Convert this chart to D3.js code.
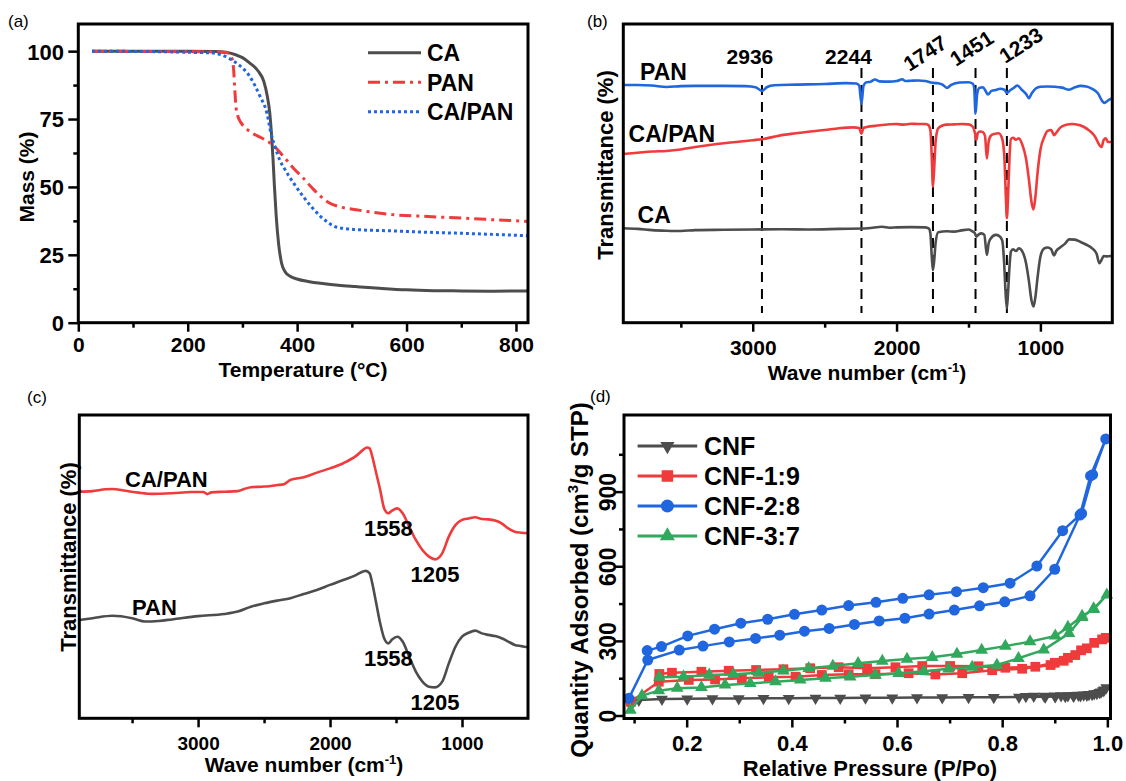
<!DOCTYPE html>
<html lang="en">
<head>
<meta charset="UTF-8" />
<title>TGA, FTIR and N2 isotherms of CA/PAN fibres</title>
<script src="https://cdn.jsdelivr.net/npm/d3@7"></script>
<style>
  html, body { margin: 0; padding: 0; background: #fff; }
  svg text { font-family: "Liberation Sans", Arial, Helvetica, sans-serif; }
</style>
</head>
<body>
<script>
// ---------- data ----------
// (a) TGA: [temperature °C, mass %]
const tgaCA = [[25,100],[100,100],[200,100],[250,99.9],[270,99.6],[290,98.5],[300,97.6],[313,95.7],[329,92.6],[339,88.9],[345.5,83.4],[350,77.2],[353,69.9],[356,60],[358.5,50.2],[361.8,39.1],[366,29.3],[371.6,21.9],[378,18.8],[388,17],[401,16],[420,15.2],[443,14.5],[475,13.8],[508,13.3],[550,12.7],[600,12.1],[650,11.8],[700,11.7],[760,11.6],[822,11.7]];
const tgaPAN = [[25,100],[100,99.9],[200,99.8],[250,99.7],[270,99.5],[278,98.5],[282,96.5],[284,93],[286,86],[288,80],[291,76.5],[298,73.5],[306,71.7],[320,69.6],[339,67.6],[358,65],[378,60.5],[395,56.5],[411,53.3],[428,49.5],[443,46.5],[460,44],[476,42.8],[508,41.6],[540,40.6],[574,39.8],[639,39.1],[704,38.5],[760,37.9],[822,37.3]];
const tgaCAPAN = [[25,100],[100,99.9],[200,99.6],[248,99.3],[274,97.5],[293,95],[313,90.8],[332,83.4],[345,77],[352,69.9],[360,64.5],[368,60],[378,56.3],[395,51],[411,46.5],[427,42.5],[443,39.1],[456,37],[469,35.4],[490,34.6],[508,34.3],[574,33.8],[639,33.3],[704,32.9],[760,32.5],[822,32.0]];
const tgaNames = ["CA", "PAN", "CA/PAN"];

// (b) FTIR of fibres: [wavenumber cm-1, transmittance a.u.]
const irPAN = [[3900,79.6],[3800,79.6],[3700,79.4],[3600,78.9],[3500,79.2],[3400,79.3],[3200,79.3],[3050,79.2],[2980,78.8],[2936,77.6],[2900,78.9],[2850,79.5],[2700,79.7],[2500,79.9],[2350,80.2],[2280,80.1],[2260,79.4],[2244,73.3],[2230,79.3],[2210,80.5],[2180,80.7],[2150,81.4],[2120,80.8],[2050,80.7],[2000,80.9],[1960,81.5],[1940,80.9],[1900,81.0],[1850,81.1],[1800,80.9],[1760,80.4],[1720,80.2],[1680,79.7],[1650,78.6],[1620,79.6],[1560,80.4],[1500,80.5],[1470,80.0],[1460,78.5],[1451,70.0],[1440,76.5],[1425,78.6],[1400,78.8],[1380,77.5],[1365,76.4],[1340,77.6],[1310,77.9],[1280,78.3],[1250,78.0],[1233,76.9],[1210,77.8],[1180,78.8],[1160,79.4],[1130,78.0],[1100,76.6],[1080,75.2],[1060,76.8],[1030,78.5],[1000,79.0],[950,79.1],[900,79.0],[850,78.7],[800,78.0],[760,78.8],[720,79.3],[680,79.1],[640,78.3],[600,76.8],[570,74.2],[555,73.6],[530,74.4],[500,75.3]];
const irCAPAN = [[3900,56.5],[3800,56.9],[3700,57.3],[3600,57.5],[3500,58.0],[3400,58.8],[3300,59.5],[3200,60.1],[3100,60.6],[3000,61.1],[2936,61.4],[2850,62.3],[2800,62.8],[2700,63.4],[2600,64.0],[2500,64.5],[2400,65.1],[2300,65.4],[2260,65.2],[2244,63.3],[2230,65.2],[2200,65.6],[2150,65.9],[2100,66.2],[2000,66.5],[1950,66.3],[1900,66.6],[1850,66.5],[1800,66.5],[1780,66.2],[1765,64.5],[1755,55],[1747,45.5],[1738,52],[1728,61],[1710,65.1],[1680,66],[1650,66.3],[1600,66.4],[1550,66.5],[1500,66.4],[1470,65.6],[1455,63.5],[1445,61.2],[1435,63.5],[1420,64.0],[1400,63.8],[1385,62.5],[1372,55.0],[1360,60.5],[1345,62.6],[1320,63.2],[1290,63.4],[1265,61.5],[1250,55],[1240,42],[1233,35.0],[1225,42],[1215,55],[1205,61.5],[1190,61.9],[1170,61.3],[1150,61.7],[1125,59.5],[1100,55],[1080,48],[1062,40.5],[1048,37.9],[1035,42],[1020,50],[1000,57.8],[970,62.5],[950,64.2],[925,64.5],[905,62.8],[890,63.6],[860,65.4],[820,66.3],[780,66.5],[740,66.3],[700,65.6],[660,64.3],[620,62.3],[590,59.5],[575,58.8],[560,61.2],[545,61.7],[530,60.5],[500,60.5]];
const irCA = [[3900,31.6],[3800,31.4],[3700,31.0],[3600,30.8],[3500,30.7],[3400,31.0],[3200,31.1],[3000,31.2],[2800,31.3],[2600,31.2],[2400,31.4],[2200,31.6],[2100,32.1],[2050,31.8],[2000,31.9],[1900,32.0],[1800,31.9],[1775,31.5],[1765,29.9],[1755,22],[1747,17.6],[1738,21],[1728,27],[1710,30.3],[1650,30.6],[1600,30.5],[1550,30.9],[1500,31.2],[1470,30.5],[1455,29.9],[1445,28.8],[1430,29.5],[1410,29.9],[1390,29.4],[1372,22.7],[1360,26.5],[1345,28.2],[1310,29.4],[1285,29.0],[1265,27.5],[1252,20],[1242,10],[1233,4.8],[1225,10],[1213,20],[1205,23.8],[1190,24.6],[1170,24.0],[1150,24.9],[1125,23.8],[1100,20],[1080,14],[1062,7.5],[1048,5.4],[1035,8.5],[1020,15],[1000,22.1],[975,24.8],[950,25.2],[925,24.6],[905,22.5],[890,24.0],[860,25.3],[830,26.4],[800,27.9],[760,27.8],[720,27.0],[680,26.1],[640,24.9],[610,23.2],[590,19.9],[575,21.0],[560,22.3],[540,22.2],[500,22.4]];
const irNamesB = ["PAN", "CA/PAN", "CA"];
const peaksB = [2936, 2244, 1747, 1451, 1233];

// (c) FTIR of carbon nanofibres
const cfCAPAN = [[3900,74.7],[3800,74.9],[3700,75.5],[3650,75.6],[3550,75.0],[3450,74.4],[3350,74.0],[3200,74.2],[3050,74.6],[2960,74.6],[2930,73.9],[2900,74.5],[2800,74.7],[2700,74.9],[2650,75.6],[2600,76.2],[2500,76.4],[2400,76.9],[2350,77.2],[2300,78.6],[2200,79.5],[2100,81.0],[2000,82.4],[1900,84.1],[1800,86.6],[1750,88.5],[1720,89.3],[1700,89.0],[1680,86.3],[1650,80.8],[1620,75.3],[1590,69.2],[1558,67.6],[1530,68.5],[1490,69.2],[1450,67.6],[1400,63.2],[1350,58.8],[1300,55.5],[1250,53.3],[1205,52.4],[1150,54.4],[1100,59.9],[1050,63.7],[1000,65.4],[950,65.9],[900,66.3],[850,65.7],[800,65.6],[750,65.2],[700,64.3],[650,62.6],[600,61.5],[550,61.2],[500,61.0]];
const cfPAN = [[3900,32.4],[3800,33.0],[3650,33.8],[3500,33.0],[3400,31.9],[3300,32.1],[3200,32.6],[3000,33.7],[2800,34.4],[2700,35.2],[2600,36.8],[2500,37.9],[2400,38.8],[2300,39.6],[2200,41.0],[2100,42.3],[2000,44.0],[1900,45.6],[1800,47.3],[1750,48.4],[1730,48.6],[1700,47.8],[1680,44.5],[1650,37.9],[1620,31.3],[1590,26.4],[1558,24.7],[1530,26.0],[1490,26.9],[1450,25.3],[1400,20.3],[1350,15.4],[1300,12.1],[1250,10.4],[1205,10.2],[1150,12.1],[1100,18.1],[1050,23.6],[1000,26.9],[950,28.2],[900,28.9],[850,28.0],[800,27.5],[750,27.1],[700,26.4],[650,25.3],[600,24.2],[550,23.8],[500,23.4]];
const cfNames = ["CA/PAN", "PAN"];
const peaksC = [1558, 1205];

// (d) N2 isotherms: [P/Po, cm3/g STP], adsorption then desorption
const isoCNF = [[0.090,55],[0.109,62],[0.153,66],[0.201,67],[0.249,68],[0.299,68],[0.346,69],[0.394,69],[0.445,70],[0.492,70],[0.540,71],[0.591,71],[0.638,72],[0.686,72],[0.736,73],[0.784,73],[0.832,74],[0.882,75],[0.901,76],[0.920,77],[0.936,78],[0.949,80],[0.961,82],[0.971,85],[0.980,89],[0.988,95],[0.994,103],[0.998,112],[0.992,100],[0.985,93],[0.975,88],[0.965,85],[0.955,83],[0.945,82],[0.935,81],[0.925,80],[0.912,80],[0.900,79],[0.880,78],[0.860,78],[0.845,77]];
const isoCNF19 = [[0.094,55],[0.147,136],[0.204,143],[0.254,145],[0.305,150],[0.356,154],[0.407,156],[0.457,163],[0.508,166],[0.559,166],[0.622,170],[0.673,165],[0.724,170],[0.781,182],[0.838,188],[0.892,203],[0.917,220],[0.939,243],[0.961,270],[0.990,306],[0.997,312],[0.975,292],[0.950,262],[0.925,232],[0.900,212],[0.863,196],[0.806,192],[0.755,198],[0.701,199],[0.648,199],[0.597,194],[0.543,190],[0.489,194],[0.435,190],[0.384,186],[0.332,183],[0.280,180],[0.228,176],[0.172,172],[0.148,167]];
const isoCNF28 = [[0.090,69],[0.126,223],[0.186,263],[0.231,279],[0.281,296],[0.331,310],[0.377,323],[0.424,339],[0.471,350],[0.519,366],[0.566,380],[0.615,391],[0.661,408],[0.709,424],[0.757,441],[0.805,457],[0.853,481],[0.900,588],[0.948,806],[0.968,963],[0.997,1112],[0.972,968],[0.951,812],[0.915,743],[0.866,601],[0.815,532],[0.764,514],[0.713,498],[0.661,485],[0.611,471],[0.560,455],[0.508,442],[0.457,424],[0.405,407],[0.354,387],[0.303,371],[0.253,347],[0.202,320],[0.152,277],[0.125,261]];
const isoCNF37 = [[0.093,22],[0.115,80],[0.147,100],[0.182,110],[0.228,113],[0.273,123],[0.321,129],[0.369,136],[0.416,143],[0.464,150],[0.511,156],[0.559,163],[0.603,170],[0.651,178],[0.698,188],[0.743,195],[0.790,203],[0.831,230],[0.879,264],[0.927,330],[0.952,395],[0.974,430],[0.999,485],[0.974,427],[0.952,400],[0.925,355],[0.901,320],[0.853,297],[0.806,279],[0.761,263],[0.714,247],[0.667,234],[0.619,227],[0.572,219],[0.526,210],[0.478,199],[0.432,190],[0.384,180],[0.337,172],[0.289,166],[0.243,163],[0.194,156],[0.148,154]];
const isoNames = ["CNF", "CNF-1:9", "CNF-2:8", "CNF-3:7"];

// tick values
const tempTicks = [0, 200, 400, 600, 800], tempMinor = [100, 300, 500, 700];
const massTicks = [0, 25, 50, 75, 100], massMinor = [12.5, 37.5, 62.5, 87.5];
const waveTicks = [3000, 2000, 1000], waveMinor = [3500, 2500, 1500];
const presTicks = [0.2, 0.4, 0.6, 0.8, 1.0], presMinor = [0.1, 0.3, 0.5, 0.7, 0.9];
const qtyTicks = [0, 300, 600, 900], qtyMinor = [150, 450, 750, 1050];

// ---------- drawing ----------
const GREY = "#4d4d4d", RED = "#ef3b3b", BLUE = "#1f66df", GREEN = "#32a85d";

const svg = d3.select("body").append("svg")
    .attr("width", 1126)
    .attr("height", 781);

function label(x, y, str, size, o = {}) {
    const t = svg.append("text")
        .attr("x", x).attr("y", y)
        .attr("text-anchor", o.anchor || "start")
        .attr("fill", "#000")
        .style("font-size", size + "px")
        .style("font-weight", o.weight || "bold")
        .text(str);
    if (o.rotate) t.attr("transform", `rotate(${o.rotate},${x},${y})`);
    if (o.central) t.attr("dominant-baseline", "central");
    return t;
}

function sup(t, main, s, after, size) {
    t.text(main);
    t.append("tspan").attr("dy", -size * 0.4).style("font-size", (size * 0.62) + "px").text(s);
    t.append("tspan").attr("dy", size * 0.4).text(after);
}

function frame(xs, ys) {
    const [x0, x1] = xs.range();
    const [yb, yt] = ys.range();
    svg.append("rect")
        .attr("x", x0).attr("y", yt)
        .attr("width", x1 - x0).attr("height", yb - yt)
        .attr("fill", "none").attr("stroke", "#000").attr("stroke-width", 3);
}

function xAxis(xs, ys, major, minor, o) {
    const y = ys.range()[0];
    const gMin = svg.append("g").attr("transform", `translate(0,${y})`)
        .call(d3.axisBottom(xs).tickValues(minor).tickSize(5).tickFormat(""));
    const gMaj = svg.append("g").attr("transform", `translate(0,${y})`)
        .call(d3.axisBottom(xs).tickValues(major).tickSize(9).tickFormat(o.format || d3.format("d")));
    [gMin, gMaj].forEach(g => {
        g.select(".domain").remove();
        g.selectAll("line").attr("stroke", "#000").attr("stroke-width", 2.5);
    });
    gMaj.selectAll("text")
        .attr("y", o.baseline - y).attr("dy", null).attr("fill", "#000")
        .style("font-size", o.size + "px").style("font-weight", "bold");
}

function yAxis(xs, ys, major, minor, o) {
    const x = xs.range()[0];
    const gMin = svg.append("g").attr("transform", `translate(${x},0)`)
        .call(d3.axisLeft(ys).tickValues(minor).tickSize(5).tickFormat(""));
    const gMaj = svg.append("g").attr("transform", `translate(${x},0)`)
        .call(d3.axisLeft(ys).tickValues(major).tickSize(10).tickFormat(d3.format("d")));
    [gMin, gMaj].forEach(g => {
        g.select(".domain").remove();
        g.selectAll("line").attr("stroke", "#000").attr("stroke-width", 2.5);
    });
    const txt = gMaj.selectAll("text").attr("fill", "#000")
        .style("font-size", o.size + "px").style("font-weight", "bold");
    if (o.rotated) {
        txt.attr("x", 0).attr("y", 0).attr("dy", null).attr("text-anchor", "middle")
           .attr("transform", `translate(${o.baselineX - x},0) rotate(-90)`);
    } else {
        txt.attr("x", o.endX - x).attr("dy", "0.36em");
    }
}

function curve(xs, ys, data, color, width, dash) {
    const line = d3.line().x(d => xs(d[0])).y(d => ys(d[1])).curve(d3.curveMonotoneX);
    const p = svg.append("path")
        .datum(data)
        .attr("d", line)
        .attr("fill", "none")
        .attr("stroke", color)
        .attr("stroke-width", width)
        .attr("stroke-linejoin", "round");
    if (dash) p.attr("stroke-dasharray", dash);
    return p;
}

function valueAt(data, v) {
    return data.find(d => d[0] === v)[1];
}

// panel letters
label(8, 27, "(a)", 17, {weight: "normal"});
label(587, 27, "(b)", 17, {weight: "normal"});
label(27, 403, "(c)", 17, {weight: "normal"});
label(590, 402, "(d)", 17, {weight: "normal"});

// ----- (a) TGA -----
const xA = d3.scaleLinear([0, 822], [78.3, 528]);
const yA = d3.scaleLinear([0, 110], [322.7, 24]);
const tgaStyle = [
    {data: tgaCA, color: GREY, dash: null},
    {data: tgaPAN, color: RED, dash: "12,5,3,5"},
    {data: tgaCAPAN, color: BLUE, dash: "3,3"}
];
tgaStyle.forEach(s => curve(xA, yA, s.data, s.color, 3, s.dash));
tgaStyle.forEach((s, i) => {
    const y = 52.7 + i * 29.5;
    const l = svg.append("line").attr("x1", 368).attr("x2", 421).attr("y1", y).attr("y2", y)
        .attr("stroke", s.color).attr("stroke-width", 3);
    if (s.dash) l.attr("stroke-dasharray", s.dash);
    label(427, y + 8.5, tgaNames[i], 23);
});
xAxis(xA, yA, tempTicks, tempMinor, {baseline: 352, size: 21});
yAxis(xA, yA, massTicks, massMinor, {endX: 64, size: 22});
frame(xA, yA);
label(303, 377, "Temperature (°C)", 21, {anchor: "middle"});
label(34, 177, "Mass (%)", 21, {anchor: "middle", rotate: -90});

// ----- (b) FTIR fibres -----
const xB = d3.scaleLinear([3900, 500], [623.3, 1112.3]);
const yB = d3.scaleLinear([0, 100], [322.7, 24]);
peaksB.forEach(v => {
    svg.append("line").attr("x1", xB(v)).attr("x2", xB(v)).attr("y1", 68).attr("y2", 313)
        .attr("stroke", "#000").attr("stroke-width", 2).attr("stroke-dasharray", "10,7");
});
curve(xB, yB, irPAN, BLUE, 2.6);
curve(xB, yB, irCAPAN, RED, 2.6);
curve(xB, yB, irCA, GREY, 2.6);
const peakPlaceB = [{dx: -12, y: 64, rot: 0}, {dx: -13, y: 64, rot: 0},
                    {dx: -8, y: 53, rot: -33}, {dx: -4, y: 48, rot: -33}, {dx: 14, y: 45, rot: -33}];
peaksB.forEach((v, i) => {
    const p = peakPlaceB[i];
    if (p.rot) label(xB(v) + p.dx, p.y, String(v), 21, {anchor: "middle", rotate: p.rot, central: true});
    else label(xB(v) + p.dx, p.y, String(v), 21, {anchor: "middle"});
});
const namePlaceB = [[640, 80], [628.6, 141.7], [637.6, 223]];
irNamesB.forEach((n, i) => label(namePlaceB[i][0], namePlaceB[i][1], n, 23));
xAxis(xB, yB, waveTicks, waveMinor, {baseline: 355, size: 21});
frame(xB, yB);
sup(label(867, 380, "", 21, {anchor: "middle"}), "Wave number (cm", "-1", ")", 21);
label(613, 165, "Transmittance (%)", 22, {anchor: "middle", rotate: -90});

// ----- (c) FTIR carbon fibres -----
const xC = d3.scaleLinear([3900, 500], [79.3, 528]);
const yC = d3.scaleLinear([0, 100], [718.3, 415]);
curve(xC, yC, cfCAPAN, RED, 2.6);
curve(xC, yC, cfPAN, GREY, 2.6);
[cfCAPAN, cfPAN].forEach(data => {
    peaksC.forEach(v => label(xC(v), yC(valueAt(data, v)) + 23, String(v), 22, {anchor: "middle"}));
});
const namePlaceC = [[125, 486.7], [132, 615]];
cfNames.forEach((n, i) => label(namePlaceC[i][0], namePlaceC[i][1], n, 22));
xAxis(xC, yC, waveTicks, waveMinor, {baseline: 750, size: 19});
frame(xC, yC);
sup(label(304, 772, "", 21, {anchor: "middle"}), "Wave number (cm", "-1", ")", 21);
label(76, 557, "Transmittance (%)", 22, {anchor: "middle", rotate: -90});

// ----- (d) isotherms -----
const xD = d3.scaleLinear([0.0808, 1.006], [624, 1110.5]);
const yD = d3.scaleLinear([-12, 1208], [718.5, 415]);
const isoStyle = [
    {data: isoCNF, color: GREY, sym: d3.symbolTriangle, size: 62, rot: 180},
    {data: isoCNF19, color: RED, sym: d3.symbolSquare, size: 95, rot: 0},
    {data: isoCNF28, color: BLUE, sym: d3.symbolCircle, size: 95, rot: 0},
    {data: isoCNF37, color: GREEN, sym: d3.symbolTriangle, size: 70, rot: 0}
];
const lineD = d3.line().x(d => xD(d[0])).y(d => yD(d[1]));
isoStyle.forEach(s => {
    svg.append("path").datum(s.data).attr("d", lineD)
        .attr("fill", "none").attr("stroke", s.color).attr("stroke-width", 2.5)
        .attr("stroke-linejoin", "round");
    svg.append("g").selectAll("path").data(s.data).enter().append("path")
        .attr("d", d3.symbol().type(s.sym).size(s.size))
        .attr("transform", d => `translate(${xD(d[0])},${yD(d[1])}) rotate(${s.rot})`)
        .attr("fill", s.color);
});
isoStyle.forEach((s, i) => {
    const y = 446 + i * 30;
    svg.append("line").attr("x1", 637.6).attr("x2", 697.2).attr("y1", y).attr("y2", y)
        .attr("stroke", s.color).attr("stroke-width", 3);
    svg.append("path").attr("d", d3.symbol().type(s.sym).size(s.size * 1.4))
        .attr("transform", `translate(667.4,${y}) rotate(${s.rot})`).attr("fill", s.color);
    label(704, y + 9, isoNames[i], 25);
});
xAxis(xD, yD, presTicks, presMinor, {baseline: 751, size: 22, format: d3.format(".1f")});
yAxis(xD, yD, qtyTicks, qtyMinor, {rotated: true, baselineX: 616, size: 23});
frame(xD, yD);
label(870, 776, "Relative Pressure (P/Po)", 22, {anchor: "middle"});
sup(label(588, 580, "", 24, {anchor: "middle", rotate: -90}), "Quantity Adsorbed (cm", "3", "/g STP)", 24);
</script>
</body>
</html>
